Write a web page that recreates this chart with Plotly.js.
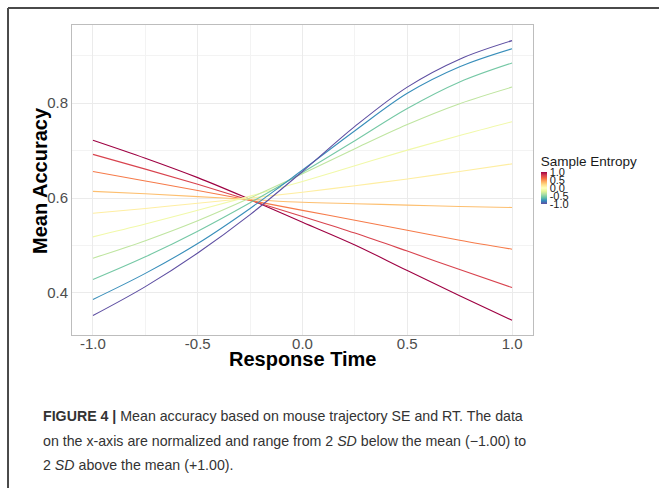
<!DOCTYPE html>
<html>
<head>
<meta charset="utf-8">
<script src="https://cdn.plot.ly/plotly-3.0.1.min.js"></script>
<style>
  html, body { margin: 0; padding: 0; background: #ffffff; }
  #chart { width: 659px; height: 488px; }
</style>
</head>
<body>
<div id="chart"></div>
<script>
// ---- Data ----
const responseTime = [-1, -0.75, -0.5, -0.25, 0, 0.25, 0.5, 0.75, 1];

const seLevels = [1.0, 0.78, 0.56, 0.33, 0.11, -0.11, -0.33, -0.56, -0.78, -1.0];

const accSE_p100 = [0.722, 0.684, 0.643, 0.597, 0.549, 0.501, 0.447, 0.394, 0.342];
const accSE_p078 = [0.692, 0.661, 0.629, 0.595, 0.561, 0.526, 0.488, 0.449, 0.411];
const accSE_p056 = [0.656, 0.636, 0.616, 0.595, 0.574, 0.553, 0.532, 0.511, 0.492];
const accSE_p033 = [0.614, 0.609, 0.603, 0.597, 0.591, 0.588, 0.585, 0.582, 0.580];
const accSE_p011 = [0.568, 0.578, 0.589, 0.600, 0.612, 0.626, 0.640, 0.656, 0.672];
const accSE_m011 = [0.518, 0.545, 0.574, 0.604, 0.635, 0.668, 0.701, 0.732, 0.761];
const accSE_m033 = [0.473, 0.510, 0.552, 0.600, 0.651, 0.704, 0.755, 0.799, 0.834];
const accSE_m056 = [0.428, 0.476, 0.530, 0.590, 0.654, 0.721, 0.789, 0.845, 0.885];
const accSE_m078 = [0.386, 0.441, 0.504, 0.578, 0.659, 0.742, 0.821, 0.877, 0.915];
const accSE_m100 = [0.352, 0.413, 0.484, 0.565, 0.656, 0.751, 0.834, 0.893, 0.932];

const accuracySeries = [accSE_p100, accSE_p078, accSE_p056, accSE_p033, accSE_p011,
                        accSE_m011, accSE_m033, accSE_m056, accSE_m078, accSE_m100];

const xTickVals = [-1, -0.5, 0, 0.5, 1];
const xTickText = ['-1.0', '-0.5', '0.0', '0.5', '1.0'];
const yTickVals = [0.4, 0.6, 0.8];
const yTickText = ['0.4', '0.6', '0.8'];
const cbTickVals = [-1, -0.5, 0, 0.5, 1];
const cbTickText = ['-1.0', '-0.5', '0.0', '0.5', '1.0'];

// ---- Styles ----
const lineColors = ['#9E0142', '#D8434E', '#F67B4A', '#FDBF6F', '#FEEEA2',
                    '#F1F9A9', '#BFE5A0', '#75C8A5', '#388EBA', '#5E4FA2'];
const spectral = [
  [0.0, '#5E4FA2'], [0.1, '#3288BD'], [0.2, '#66C2A5'], [0.3, '#ABDDA4'],
  [0.4, '#E6F598'], [0.5, '#FFFFBF'], [0.6, '#FEE08B'], [0.7, '#FDAE61'],
  [0.8, '#F46D43'], [0.9, '#D53E4F'], [1.0, '#9E0142']
];
const FONT = 'Liberation Sans, Arial, Helvetica, sans-serif';

const traces = accuracySeries.map((acc, i) => ({
  type: 'scatter',
  mode: 'lines',
  x: responseTime,
  y: acc,
  name: 'SE ' + seLevels[i],
  line: { color: lineColors[i], width: 1.1, shape: 'spline', smoothing: 1 },
  showlegend: false,
  hoverinfo: 'skip'
}));

// colour bar carrier (no visible marks)
traces.push({
  type: 'scatter',
  mode: 'markers',
  x: [null],
  y: [null],
  showlegend: false,
  hoverinfo: 'skip',
  marker: {
    size: 0,
    color: [0],
    cmin: -1, cmax: 1,
    colorscale: spectral,
    showscale: true,
    colorbar: {
      title: { text: 'Sample Entropy', side: 'top', font: { family: FONT, size: 13.5, color: '#1a1a1a' } },
      tickmode: 'array',
      tickvals: cbTickVals,
      ticktext: cbTickText,
      tickfont: { family: FONT, size: 11, color: '#1a1a1a' },
      ticks: '',
      outlinewidth: 0,
      thickness: 6,
      thicknessmode: 'pixels',
      len: 52,
      lenmode: 'pixels',
      x: 1.0167,
      xanchor: 'left',
      xpad: 0,
      y: 0.421,
      yanchor: 'bottom',
      ypad: 0
    }
  }
});

const layout = {
  width: 659,
  height: 488,
  margin: { l: 72, r: 126, t: 25, b: 153 },
  paper_bgcolor: '#ffffff',
  plot_bgcolor: '#ffffff',
  font: { family: FONT },
  showlegend: false,
  xaxis: {
    range: [-1.1, 1.1],
    tickmode: 'array',
    tickvals: xTickVals,
    ticktext: xTickText,
    tickfont: { family: FONT, size: 15, color: '#4d4d4d' },
    ticks: '',
    ticklabelstandoff: -5,
    showgrid: true,
    gridcolor: '#ebebeb',
    gridwidth: 1,
    minor: { tickmode: 'array', tickvals: [-0.75, -0.25, 0.25, 0.75], showgrid: true, gridcolor: '#f3f3f3', gridwidth: 1 },
    zeroline: false,
    showline: true,
    mirror: true,
    linecolor: '#bdbdbd',
    linewidth: 1,
    automargin: false
  },
  yaxis: {
    range: [0.311, 0.965],
    tickmode: 'array',
    tickvals: yTickVals,
    ticktext: yTickText,
    tickfont: { family: FONT, size: 15, color: '#4d4d4d' },
    ticks: '',
    showgrid: true,
    gridcolor: '#ebebeb',
    gridwidth: 1,
    minor: { tickmode: 'array', tickvals: [0.5, 0.7, 0.9], showgrid: true, gridcolor: '#f3f3f3', gridwidth: 1 },
    zeroline: false,
    showline: true,
    mirror: true,
    linecolor: '#bdbdbd',
    linewidth: 1,
    automargin: false
  },
  shapes: [
    { type: 'line', xref: 'paper', yref: 'paper', x0: -0.1388, x1: 1.2733, y0: 1.0548, y1: 1.0548,
      line: { color: '#4a4a4a', width: 2 } },
    { type: 'line', xref: 'paper', yref: 'paper', x0: -0.1388, x1: -0.1388, y0: 1.0548, y1: -0.4935,
      line: { color: '#4a4a4a', width: 2 } }
  ],
  annotations: [
    // axis titles
    { xref: 'paper', yref: 'paper', x: 0.5, y: -0.0774, xanchor: 'center', yanchor: 'middle', showarrow: false,
      text: 'Response Time',
      font: { family: FONT, size: 20, color: '#000000', weight: 'bold' } },
    { xref: 'paper', yref: 'paper', x: -0.0694, y: 0.497, xanchor: 'center', yanchor: 'middle', showarrow: false,
      textangle: -90,
      text: 'Mean Accuracy',
      font: { family: FONT, size: 20, color: '#000000', weight: 'bold' } },
    // caption
    { xref: 'paper', yref: 'paper', x: -0.06725, y: -0.2613, xanchor: 'left', yanchor: 'middle', showarrow: false,
      text: '<b>FIGURE 4 |</b> Mean accuracy based on mouse trajectory SE and RT. The data',
      font: { family: FONT, size: 14.2, color: '#333333' } },
    { xref: 'paper', yref: 'paper', x: -0.06725, y: -0.3419, xanchor: 'left', yanchor: 'middle', showarrow: false,
      text: 'on the x-axis are normalized and range from 2 <i>SD</i> below the mean (\u22121.00) to',
      font: { family: FONT, size: 14.2, color: '#333333' } },
    { xref: 'paper', yref: 'paper', x: -0.06725, y: -0.4194, xanchor: 'left', yanchor: 'middle', showarrow: false,
      text: '2 <i>SD</i> above the mean (+1.00).',
      font: { family: FONT, size: 14.2, color: '#333333' } }
  ]
};

Plotly.newPlot('chart', traces, layout, { staticPlot: true, displayModeBar: false });
</script>
</body>
</html>
